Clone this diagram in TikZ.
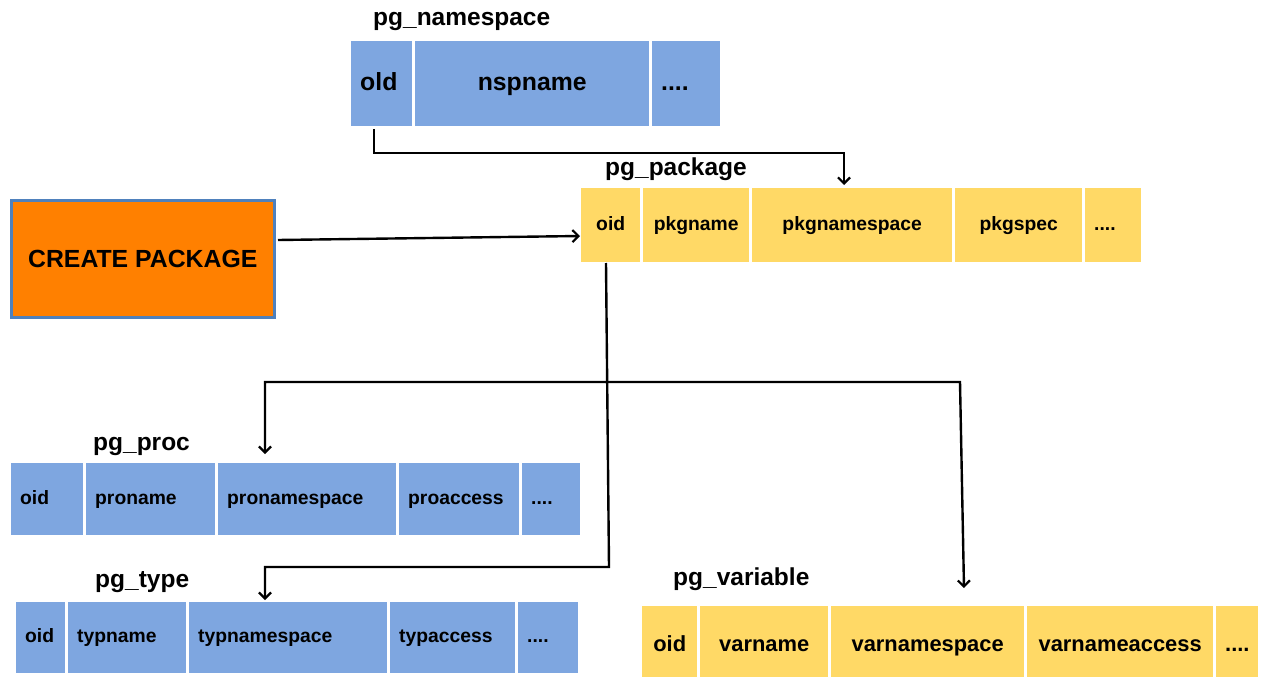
\documentclass[tikz,border=0pt]{standalone}
\usepackage{fontspec}
\setmainfont{Liberation Sans}
\usetikzlibrary{arrows.meta,calc}
\definecolor{cblue}{RGB}{126,166,224}
\definecolor{cyel}{RGB}{255,217,102}
\definecolor{corange}{RGB}{255,128,0}
\definecolor{cborder}{RGB}{79,129,189}
\newcommand\rowcell[7]{%
  \pgfmathsetmacro\rcW{#4-#3}\pgfmathsetmacro\rcH{#6-#5}\pgfmathsetmacro\rcT{#4-#3-18}%
  \node[#1, minimum width=\rcW pt, minimum height=\rcH pt, text width=\rcT pt] (#2) at (#3,#5) {#7};}
\begin{document}
\begin{tikzpicture}[x=1pt,y=-1pt,
  cellbase/.style={anchor=north west, inner xsep=9pt, inner ysep=0pt, text=black,
    text depth=0pt},
  blue/.style={cellbase, fill=cblue},
  yel/.style={cellbase, fill=cyel},
  lft/.style={align=left},
  ctr/.style={align=center},
  big/.style={font=\bfseries\fontsize{24.8}{28}\selectfont, text height=1.38em},
  mid/.style={font=\bfseries\fontsize{21.9}{25}\selectfont, text height=1.25em},
  small/.style={font=\bfseries\fontsize{19.3}{22}\selectfont, text height=1.05em},
  title/.style={anchor=base west, inner sep=0pt, font=\bfseries\fontsize{24.5}{28}\selectfont},
  cpbox/.style={anchor=north west, fill=corange, draw=cborder, line width=2.5pt, inner sep=0pt,
    font=\bfseries\fontsize{24.8}{28}\selectfont},
  conn/.style={line width=2.4pt, -{Straight Barb[length=6pt,width=12pt,line width=2.2pt]}},
  conn2/.style={line width=2.4pt, {Straight Barb[length=6pt,width=12pt,line width=2.2pt]}-{Straight Barb[length=6pt,width=12pt,line width=2.2pt]}}
]
\useasboundingbox (0,0) rectangle (1261,677);

% pg_namespace
\node[title] (tns) at (373,26) {pg\_namespace};
\rowcell{blue,big,lft}{ns1}{351}{412}{41}{126}{old}
\rowcell{blue,big,ctr}{ns2}{415}{649}{41}{126}{nspname}
\rowcell{blue,big,lft}{ns3}{652}{720}{41}{126}{....}

% pg_package
\node[title] (tpk) at (605,175) {pg\_package};
\rowcell{yel,small,ctr}{pk1}{581}{640}{188}{262}{oid}
\rowcell{yel,small,ctr}{pk2}{643}{749}{188}{262}{pkgname}
\rowcell{yel,small,ctr}{pk3}{752}{952}{188}{262}{pkgnamespace}
\rowcell{yel,small,ctr}{pk4}{955}{1082}{188}{262}{pkgspec}
\rowcell{yel,small,lft}{pk5}{1085}{1141}{188}{262}{....}

% CREATE PACKAGE
\node[cpbox, minimum width=263pt, minimum height=117pt] (cp) at (10,199) {CREATE PACKAGE};

% pg_proc
\node[title] (tproc) at (93,450) {pg\_proc};
\rowcell{blue,small,lft}{pr1}{11}{83}{463}{535}{oid}
\rowcell{blue,small,lft}{pr2}{86}{215}{463}{535}{proname}
\rowcell{blue,small,lft}{pr3}{218}{396}{463}{535}{pronamespace}
\rowcell{blue,small,lft}{pr4}{399}{519}{463}{535}{proaccess}
\rowcell{blue,small,lft}{pr5}{522}{580}{463}{535}{....}

% pg_type
\node[title] (ttype) at (95,587) {pg\_type};
\rowcell{blue,small,lft}{ty1}{16}{65}{602}{673}{oid}
\rowcell{blue,small,lft}{ty2}{68}{186}{602}{673}{typname}
\rowcell{blue,small,lft}{ty3}{189}{387}{602}{673}{typnamespace}
\rowcell{blue,small,lft}{ty4}{390}{515}{602}{673}{typaccess}
\rowcell{blue,small,lft}{ty5}{518}{578}{602}{673}{....}

% pg_variable
\node[title] (tvar) at (673,585) {pg\_variable};
\rowcell{yel,mid,ctr}{va1}{642}{697}{606}{684}{oid}
\rowcell{yel,mid,ctr}{va2}{700}{828}{606}{684}{varname}
\rowcell{yel,mid,ctr}{va3}{831}{1024}{606}{684}{varnamespace}
\rowcell{yel,mid,ctr}{va4}{1027}{1213}{606}{684}{varnameaccess}
\rowcell{yel,mid,ctr}{va5}{1216}{1258}{606}{684}{....}

% connector coordinates
\coordinate (nsout) at (374,129);
\coordinate (pkin) at (844,185);
\coordinate (cpout) at (278,240);
\coordinate (pkwest) at (580,236);
\coordinate (pkout) at (606,263);
\coordinate (tybend) at (609,567);
\coordinate (tyin) at (265,600);
\coordinate (procin) at (265,454);
\coordinate (brR) at (960,382);
\coordinate (varin) at (964,588);

% connectors
\draw[conn] (nsout) |- (pkin |- 0,153) -- (pkin);
\draw[conn] (cpout) -- (pkwest);
\draw[conn] (pkout) -- (tybend) -- (tybend -| tyin) -- (tyin);
\draw[conn2] (procin) |- (brR) -- (varin);
\end{tikzpicture}
\end{document}
